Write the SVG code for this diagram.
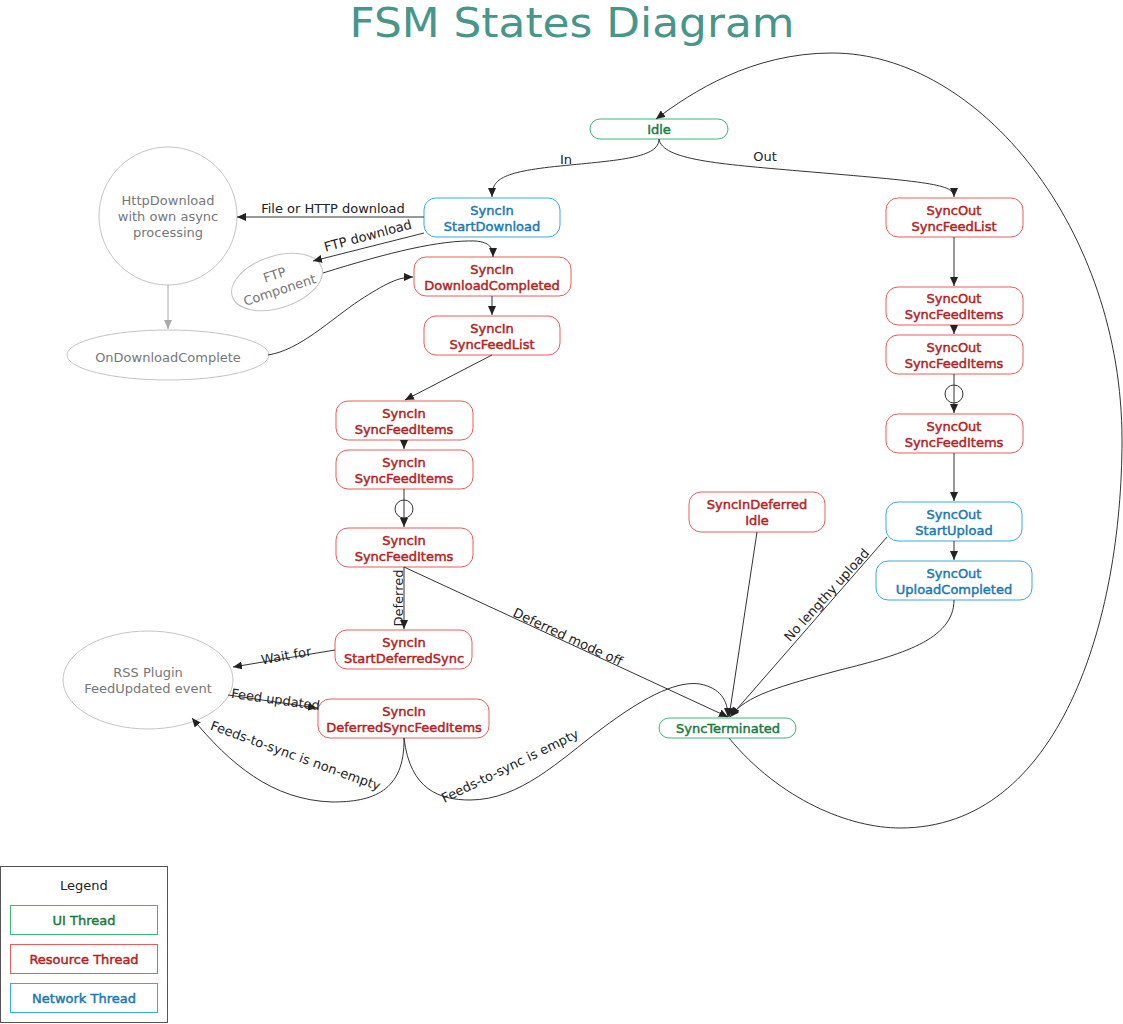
<svg xmlns="http://www.w3.org/2000/svg" width="1123" height="1024" viewBox="0 0 1123 1024">
<defs>
<marker id="ah" markerUnits="userSpaceOnUse" markerWidth="10" markerHeight="8" refX="9" refY="4" orient="auto">
<path d="M0,0 L9,4 L0,8 z" fill="#222"/>
</marker>
<marker id="ahg" markerUnits="userSpaceOnUse" markerWidth="10" markerHeight="8" refX="9" refY="4" orient="auto">
<path d="M0,0 L9,4 L0,8 z" fill="#aaa"/>
</marker>
<style>
text{font-family:"DejaVu Sans","Liberation Sans",sans-serif;}
.t{font-size:13px;text-anchor:middle;stroke-width:0.45px;}
.ui rect{fill:#fff;stroke:#3cb878;stroke-width:1;}
.ui text{fill:#1a7a3c;stroke:#1a7a3c;}
.res rect{fill:#fff;stroke:#e85c5c;stroke-width:1;}
.res text{fill:#b22222;stroke:#b22222;}
.net rect{fill:#fff;stroke:#3aa8e4;stroke-width:1;}
.net text{fill:#1a78b4;stroke:#1a78b4;}
.ext ellipse,.ext circle{fill:#fff;stroke:#c4c4c4;stroke-width:1;}
.ext text{fill:#777;font-size:13px;text-anchor:middle;}
.c path,.c line{fill:none;stroke:#333;stroke-width:1;}
.c .g{stroke:#aaa;}
.lbl{font-size:13px;fill:#222;text-anchor:middle;}
</style>
</defs>
<rect width="1123" height="1024" fill="#fff"/>
<text x="572" y="37" font-size="40" fill="#46968a" text-anchor="middle" textLength="445" lengthAdjust="spacingAndGlyphs">FSM States Diagram</text>

<g id="idle" class="ui"><rect x="590" y="119" width="138" height="20" rx="10"/><text class="t" x="659" y="134">Idle</text></g>
<g id="syncin-startdownload" class="net"><rect x="424" y="198" width="136" height="39" rx="12"/><text class="t" x="492" y="215">SyncIn</text><text class="t" x="492" y="231">StartDownload</text></g>
<g id="syncin-downloadcompleted" class="res"><rect x="414" y="257" width="157" height="39" rx="12"/><text class="t" x="492" y="274">SyncIn</text><text class="t" x="492" y="290">DownloadCompleted</text></g>
<g id="syncin-syncfeedlist" class="res"><rect x="424" y="316" width="136" height="39" rx="12"/><text class="t" x="492" y="333">SyncIn</text><text class="t" x="492" y="349">SyncFeedList</text></g>
<g id="syncin-syncfeeditems-1" class="res"><rect x="336" y="401" width="137" height="39" rx="12"/><text class="t" x="404" y="418">SyncIn</text><text class="t" x="404" y="434">SyncFeedItems</text></g>
<g id="syncin-syncfeeditems-2" class="res"><rect x="336" y="450" width="137" height="39" rx="12"/><text class="t" x="404" y="467">SyncIn</text><text class="t" x="404" y="483">SyncFeedItems</text></g>
<g id="syncin-syncfeeditems-3" class="res"><rect x="336" y="528" width="137" height="39" rx="12"/><text class="t" x="404" y="545">SyncIn</text><text class="t" x="404" y="561">SyncFeedItems</text></g>
<g id="syncin-startdeferredsync" class="res"><rect x="335" y="630" width="137" height="39" rx="12"/><text class="t" x="404" y="647">SyncIn</text><text class="t" x="404" y="663">StartDeferredSync</text></g>
<g id="syncin-deferredsyncfeeditems" class="res"><rect x="318" y="699" width="171" height="39" rx="12"/><text class="t" x="404" y="716">SyncIn</text><text class="t" x="404" y="732">DeferredSyncFeedItems</text></g>
<g id="syncindeferred-idle" class="res"><rect x="689" y="492" width="136" height="40" rx="12"/><text class="t" x="757" y="509">SyncInDeferred</text><text class="t" x="757" y="525">Idle</text></g>
<g id="syncterminated" class="ui"><rect x="659" y="718" width="137" height="20" rx="10"/><text class="t" x="728" y="733">SyncTerminated</text></g>
<g id="syncout-syncfeedlist" class="res"><rect x="886" y="198" width="137" height="39" rx="12"/><text class="t" x="954" y="215">SyncOut</text><text class="t" x="954" y="231">SyncFeedList</text></g>
<g id="syncout-syncfeeditems-1" class="res"><rect x="886" y="287" width="137" height="38" rx="12"/><text class="t" x="954" y="303">SyncOut</text><text class="t" x="954" y="319">SyncFeedItems</text></g>
<g id="syncout-syncfeeditems-2" class="res"><rect x="886" y="335" width="137" height="39" rx="12"/><text class="t" x="954" y="352">SyncOut</text><text class="t" x="954" y="368">SyncFeedItems</text></g>
<g id="syncout-syncfeeditems-3" class="res"><rect x="886" y="414" width="137" height="39" rx="12"/><text class="t" x="954" y="431">SyncOut</text><text class="t" x="954" y="447">SyncFeedItems</text></g>
<g id="syncout-startupload" class="net"><rect x="886" y="502" width="136" height="39" rx="12"/><text class="t" x="954" y="519">SyncOut</text><text class="t" x="954" y="535">StartUpload</text></g>
<g id="syncout-uploadcompleted" class="net"><rect x="876" y="561" width="156" height="39" rx="12"/><text class="t" x="954" y="578">SyncOut</text><text class="t" x="954" y="594">UploadCompleted</text></g>

<g id="httpdownload" class="ext"><circle cx="168" cy="216" r="69"/><text x="168" y="205">HttpDownload</text><text x="168" y="221">with own async</text><text x="168" y="237">processing</text></g>
<g id="ftp-component" class="ext"><ellipse cx="0" cy="0" rx="47" ry="26" transform="translate(277,282) rotate(-18)"/><g transform="translate(277,282) rotate(-18)"><text x="0" y="-3">FTP</text><text x="0" y="13">Component</text></g></g>
<g id="ondownloadcomplete" class="ext"><ellipse cx="168" cy="355" rx="101" ry="25"/><text x="168" y="362">OnDownloadComplete</text></g>
<g id="rss-plugin" class="ext"><ellipse cx="148" cy="680" rx="85" ry="49"/><text x="148" y="677">RSS Plugin</text><text x="148" y="693">FeedUpdated event</text></g>

<g id="connectors" class="c">
<path d="M729,738 C780,800 850,828 900,828 C1060,828 1122,620 1122,440 C1122,230 980,53 832,53 C752,53 692,92 656,119" marker-end="url(#ah)"/>
<path d="M659,139 C659,158 620,160 560,166 C500,172 492,180 492,197" marker-end="url(#ah)"/>
<path d="M659,139 C662,160 720,164 800,171 C930,182 954,184 954,197" marker-end="url(#ah)"/>
<line x1="424" y1="217" x2="237" y2="217" marker-end="url(#ah)"/>
<line x1="424" y1="233" x2="313" y2="261" marker-end="url(#ah)"/>
<path d="M323,273 C390,252 440,240 475,241 C490,242 493,248 493,257" marker-end="url(#ah)"/>
<path d="M268,355 C300,350 330,320 360,300 C385,284 398,277 413,277" marker-end="url(#ah)"/>
<line class="g" x1="168" y1="285" x2="168" y2="329" marker-end="url(#ahg)"/>
<line x1="492" y1="296" x2="492" y2="315" marker-end="url(#ah)"/>
<line x1="492" y1="355" x2="405" y2="400" marker-end="url(#ah)"/>
<line x1="404" y1="440" x2="404" y2="449" marker-end="url(#ah)"/>
<line x1="404" y1="489" x2="404" y2="527" marker-end="url(#ah)"/>
<circle cx="404" cy="509" r="9" fill="none" stroke="#333"/>
<line x1="404" y1="567" x2="404" y2="629" marker-end="url(#ah)"/>
<line x1="404" y1="567" x2="728" y2="717" marker-end="url(#ah)"/>
<line x1="335" y1="650" x2="233" y2="667" marker-end="url(#ah)"/>
<line x1="228" y1="695" x2="317" y2="708" marker-end="url(#ah)"/>
<path d="M404,738 C405,792 372,802 332,802 C272,800 230,764 192,718" marker-end="url(#ah)"/>
<path d="M404,738 C410,790 440,800 470,800 C520,800 560,760 600,730 C650,692 680,681 700,684 C720,688 728,700 728,717" marker-end="url(#ah)"/>
<line x1="757" y1="532" x2="729" y2="717" marker-end="url(#ah)"/>
<line x1="887" y1="537" x2="730" y2="717" marker-end="url(#ah)"/>
<path d="M954,600 C954,640 900,655 840,670 C780,686 745,696 731,716" marker-end="url(#ah)"/>
<line x1="954" y1="237" x2="954" y2="286" marker-end="url(#ah)"/>
<line x1="954" y1="325" x2="954" y2="334" marker-end="url(#ah)"/>
<line x1="954" y1="374" x2="954" y2="413" marker-end="url(#ah)"/>
<circle cx="954" cy="394" r="9" fill="none" stroke="#333"/>
<line x1="954" y1="453" x2="954" y2="501" marker-end="url(#ah)"/>
<line x1="954" y1="541" x2="954" y2="560" marker-end="url(#ah)"/>
<text class="lbl" x="566" y="164">In</text>
<text class="lbl" x="765" y="161">Out</text>
<text class="lbl" x="333" y="213">File or HTTP download</text>
<text class="lbl" transform="translate(369,240) rotate(-15)">FTP download</text>
<text class="lbl" transform="translate(403,598) rotate(-90)">Deferred</text>
<text class="lbl" transform="translate(566,641) rotate(25)">Deferred mode off</text>
<text class="lbl" transform="translate(287,660) rotate(-10)">Wait for</text>
<text class="lbl" transform="translate(275,704) rotate(8)">Feed updated</text>
<text class="lbl" transform="translate(294,760) rotate(20)">Feeds-to-sync is non-empty</text>
<text class="lbl" transform="translate(512,770) rotate(-26)">Feeds-to-sync is empty</text>
<text class="lbl" transform="translate(830,598) rotate(-48)">No lengthy upload</text>
</g>

<g id="legend">
<rect x="0.5" y="866.5" width="167" height="156" fill="#fff" stroke="#555"/>
<text x="84" y="890" font-size="13" text-anchor="middle" fill="#222">Legend</text>
<g class="ui"><rect x="10.5" y="905.5" width="147" height="29"/><text class="t" x="84" y="925">UI Thread</text></g>
<g class="res"><rect x="10.5" y="944.5" width="147" height="29"/><text class="t" x="84" y="964">Resource Thread</text></g>
<g class="net"><rect x="10.5" y="983.5" width="147" height="29"/><text class="t" x="84" y="1003">Network Thread</text></g>
</g>
</svg>
